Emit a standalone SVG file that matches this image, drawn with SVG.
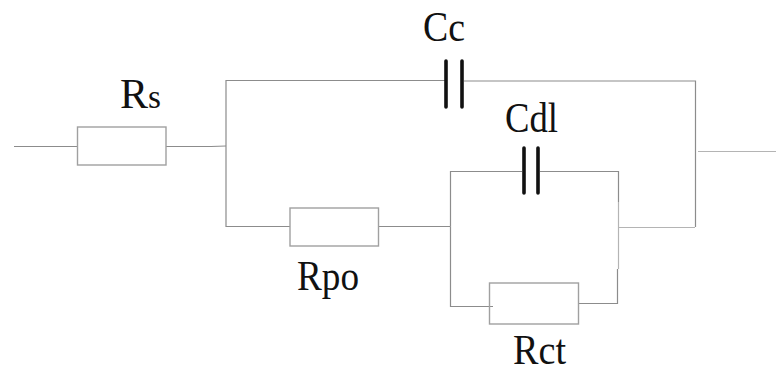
<svg xmlns="http://www.w3.org/2000/svg" width="776" height="367" viewBox="0 0 776 367">
<style>
.w{fill:none;stroke:#8c8c8c;stroke-width:1.2}
.l{stroke:#b4b4b4}
.r{fill:none;stroke:#a0a0a0;stroke-width:1.4}
.p{fill:none;stroke:#111;stroke-width:3.6;stroke-linecap:round}
text{font-family:"Liberation Serif","Times New Roman",serif;font-size:43px;fill:#111}
</style>
<rect width="776" height="367" fill="#fff"/>
<g id="connectors">
<path class="w" d="M14 146.500H77M166 146.500H211L226 146"/>
<path class="w" d="M226 146V80.500H446M464 81H695.500V148M695.500 148V227"/>
<path class="w l" d="M698 151.500H776M618 227.500H695"/>
<path class="w" d="M226 146V226.500H290M378 226.500H450.500"/>
<path class="w" d="M450.500 226.500V171.500H522M540 171.500H618.500V202"/>
<path class="w l" d="M618.500 202V269"/>
<path class="w" d="M450.500 226.500V306.500H493M578 303.500H617.500V269"/>
</g>
<g id="Rs"><rect class="r" x="77.500" y="127" width="88.500" height="38"/><text x="120" y="108" textLength="41" lengthAdjust="spacingAndGlyphs">R<tspan font-size="34">s</tspan></text></g>
<g id="Cc"><path class="p" d="M446 61V107M462 61V107"/><text x="423" y="41" textLength="42" lengthAdjust="spacingAndGlyphs">Cc</text></g>
<g id="Cdl"><path class="p" d="M524 148V193M538 148V193"/><text x="505" y="132" textLength="53" lengthAdjust="spacingAndGlyphs">Cdl</text></g>
<g id="Rpo"><rect class="r" x="290" y="208" width="88.500" height="38"/><text x="297" y="290" textLength="62" lengthAdjust="spacingAndGlyphs">Rpo</text></g>
<g id="Rct"><rect class="r" x="489.500" y="283" width="89" height="41"/><text x="513" y="364" textLength="53" lengthAdjust="spacingAndGlyphs">Rct</text></g>
</svg>
